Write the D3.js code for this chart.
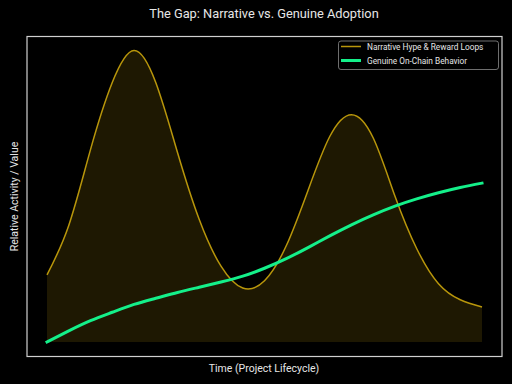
<!DOCTYPE html>
<html><head><meta charset="utf-8">
<script src="https://cdn.jsdelivr.net/npm/d3@7"></script>
<style>html,body{margin:0;padding:0;background:#000;}svg{display:block;}</style>
</head><body><svg id="c" width="512" height="384"></svg>
<script>
const timePoints = [0,0.5,1,1.5,2,2.5,3,3.5,4,4.5,5,5.5,6,6.5,7,7.5,8,8.5,9,9.5,10];
const hypeValues = [23,40,66,89,100,89,65,42,26,18.5,21,33,52,70.5,78,70,50,32,20,14.5,12];
const genuineValues = [0,3.8,7.3,10.2,12.9,15.0,17.0,18.8,20.6,22.6,25.3,28.6,32.4,36.4,40.2,43.6,46.6,49.1,51.2,53.0,54.5];
const seriesNames = ["Narrative Hype & Reward Loops","Genuine On-Chain Behavior"];
const titleText = "The Gap: Narrative vs. Genuine Adoption";
const xLabel = "Time (Project Lifecycle)";
const yLabel = "Relative Activity / Value";

const svg = d3.select("#c");
const font = "Roboto, 'DejaVu Sans', sans-serif";
const frame = {l:27, r:502, t:36.5, b:356.5};
const x = d3.scaleLinear().domain([0,10]).range([47,482]);
const y = d3.scaleLinear().domain([0,100]).range([342,50.5]);

const gold = "#b8960b";
const green = "#14f08a";

const hype = timePoints.map((t,i)=>({t, v:hypeValues[i]}));
const gen = timePoints.map((t,i)=>({t, v:genuineValues[i]}));

svg.append("rect").attr("width",512).attr("height",384).attr("fill","#000");

const area = d3.area().x(d=>x(d.t)).y0(y(0)).y1(d=>y(d.v)).curve(d3.curveNatural);
svg.append("path").datum(hype).attr("d",area).attr("fill",gold).attr("fill-opacity",0.16);

const line = d3.line().x(d=>x(d.t)).y(d=>y(d.v)).curve(d3.curveNatural);
svg.append("path").datum(hype).attr("d",line).attr("fill","none").attr("stroke",gold).attr("stroke-width",1.5);
svg.append("path").datum(gen).attr("d",line).attr("fill","none").attr("stroke",green).attr("stroke-width",3).attr("stroke-linecap","square");

// frame
svg.append("rect").attr("x",frame.l).attr("y",frame.t).attr("width",frame.r-frame.l).attr("height",frame.b-frame.t)
  .attr("fill","none").attr("stroke","#d0d0d0").attr("stroke-width",1.2);

// title & labels
svg.append("text").attr("x",264).attr("y",18).attr("text-anchor","middle").attr("fill","#e6e6e6")
  .attr("font-family",font).attr("font-size",12.8).text(titleText);
svg.append("text").attr("x",264).attr("y",372).attr("text-anchor","middle").attr("fill","#e6e6e6")
  .attr("font-family",font).attr("font-size",10.5).text(xLabel);
svg.append("text").attr("transform","translate(18,196.5) rotate(-90)").attr("text-anchor","middle").attr("fill","#e6e6e6")
  .attr("font-family",font).attr("font-size",10.5).text(yLabel);

// legend
const lg = svg.append("g");
lg.append("rect").attr("x",338.5).attr("y",41).attr("width",160).attr("height",28.5).attr("rx",2.5)
  .attr("fill","#000").attr("fill-opacity",0.8).attr("stroke","#8a8a8a").attr("stroke-width",0.8);
const entries = [{c:gold,w:1.5},{c:green,w:3}];
entries.forEach((e,i)=>{
  const yy = 46.5 + i*14;
  lg.append("line").attr("x1",341).attr("x2",361).attr("y1",yy).attr("y2",yy).attr("stroke",e.c).attr("stroke-width",e.w);
  lg.append("text").attr("x",367).attr("y",yy+3).attr("fill","#e6e6e6").attr("font-family",font).attr("font-size",8.3).text(seriesNames[i]);
});
</script></body></html>
